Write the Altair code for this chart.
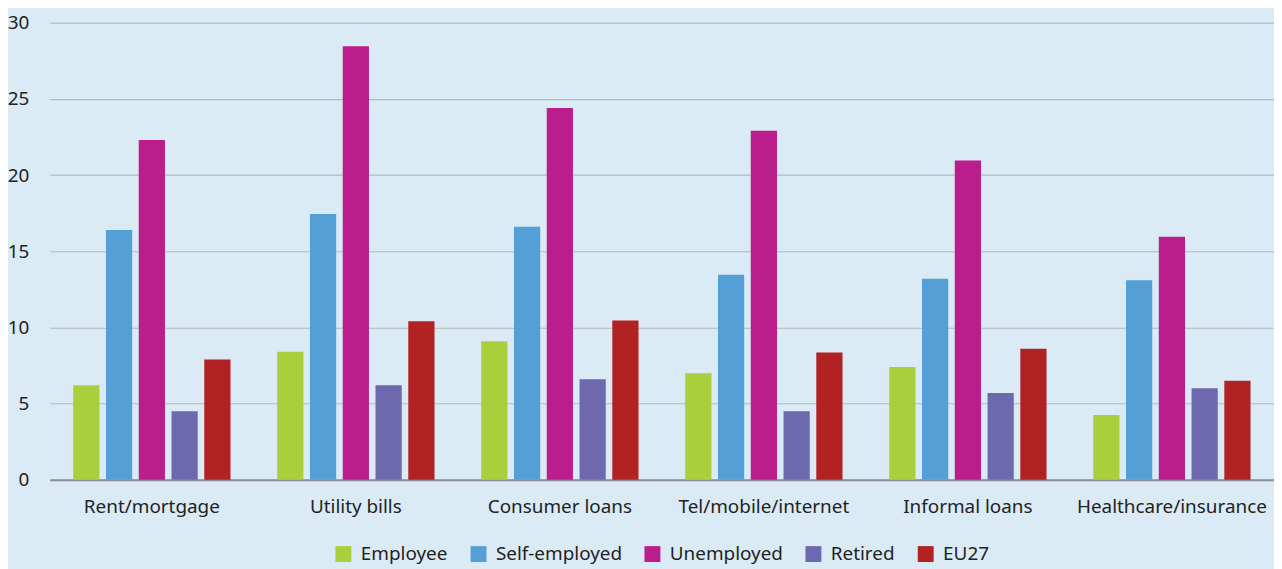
import altair as alt
import pandas as pd

categories = ["Rent/mortgage", "Utility bills", "Consumer loans",
              "Tel/mobile/internet", "Informal loans", "Healthcare/insurance"]
groups = ["Employee", "Self-employed", "Unemployed", "Retired", "EU27"]
employee = [6.2, 8.4, 9.1, 7.0, 7.4, 4.25]
self_employed = [16.4, 17.45, 16.6, 13.45, 13.2, 13.1]
unemployed = [22.3, 28.45, 24.4, 22.9, 20.95, 15.95]
retired = [4.5, 6.2, 6.6, 4.5, 5.7, 6.0]
eu27 = [7.9, 10.4, 10.45, 8.35, 8.6, 6.5]
colors = ["#a9cf3c", "#559fd7", "#bb1e8c", "#6e68ae", "#b22222"]

series = [employee, self_employed, unemployed, retired, eu27]
rows = []
for g, vals in zip(groups, series):
    for c, v in zip(categories, vals):
        rows.append({"category": c, "group": g, "value": v})
df = pd.DataFrame(rows)

FONT = "Noto Sans"

chart = alt.Chart(df).mark_bar().encode(
    x=alt.X("category:N", sort=categories, title=None,
            scale=alt.Scale(paddingInner=0.229, paddingOuter=0.115),
            axis=alt.Axis(labelAngle=0, labelFontSize=19, labelFont=FONT,
                          labelColor="#222222", labelPadding=18, ticks=False,
                          tickSize=0, domainColor="#8a8f94", domainWidth=2,
                          grid=False, labelLimit=0)),
    xOffset=alt.XOffset("group:N", sort=groups,
                        scale=alt.Scale(paddingInner=0.2, paddingOuter=0)),
    y=alt.Y("value:Q", title=None,
            scale=alt.Scale(domain=[0, 30], nice=False),
            axis=alt.Axis(values=[0, 5, 10, 15, 20, 25, 30], labelFontSize=19,
                          labelFont=FONT, labelColor="#222222", labelPadding=21,
                          ticks=False, tickSize=0, domain=False, grid=True,
                          gridColor="#b3b8bd", gridWidth=1.2)),
    color=alt.Color("group:N", sort=groups,
                    scale=alt.Scale(domain=groups, range=colors),
                    legend=alt.Legend(title=None, orient="none", direction="horizontal",
                                      legendX=286, legendY=525,
                                      symbolType="square", symbolSize=256,
                                      symbolStrokeWidth=0, labelOffset=8,
                                      columnPadding=21, labelFontSize=19,
                                      labelFont=FONT, labelColor="#222222",
                                      padding=0)),
).properties(
    width=1232, height=460,
    autosize=alt.AutoSizeParams(type="none"),
    padding={"left": 42, "top": 13, "right": 0, "bottom": 88},
).configure(
    background="#daebf5",
).configure_view(
    stroke=None,
)

chart.save("out.html", embed_options={"renderer": "svg", "actions": False})
